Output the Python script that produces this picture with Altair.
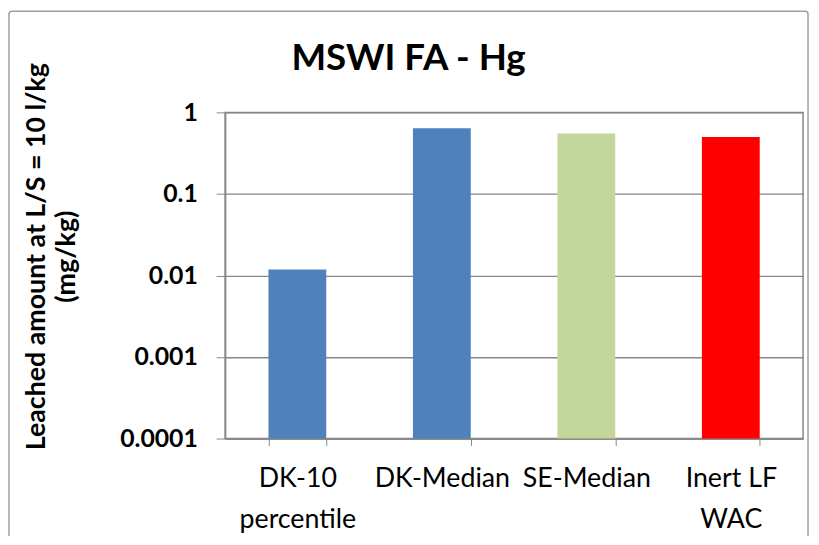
import altair as alt
import pandas as pd

categories = ["DK-10\npercentile", "DK-Median", "SE-Median", "Inert LF\nWAC"]
values = [0.0118, 0.64, 0.55, 0.5]
colors = ["#4F81BD", "#4F81BD", "#C3D69B", "#FF0000"]
y_ticks = [0.0001, 0.001, 0.01, 0.1, 1]
title_text = "MSWI FA - Hg"
y_title = ["Leached amount at L/S = 10 l/kg", "(mg/kg)"]

df = pd.DataFrame({"category": categories, "value": values})

FONT = "Lato"
GRAY = "#868686"

bars = alt.Chart(df).mark_bar().encode(
    x=alt.X("category:N", sort=categories,
            scale=alt.Scale(paddingInner=0.6, paddingOuter=0.3),
            axis=alt.Axis(title=None, labelAngle=0, labelExpr="split(datum.label, '\\n')",
                          labelFontSize=27, labelColor="#000", labelFont=FONT,
                          labelPadding=20, labelLineHeight=42, labelBaseline="top",
                          tickBand="extent", tickColor=GRAY, tickSize=7,
                          domainColor=GRAY, domainWidth=1.5, grid=False)),
    y=alt.Y("value:Q",
            scale=alt.Scale(type="log", domain=[0.0001, 1], nice=False),
            axis=alt.Axis(values=y_ticks, format="~g",
                          title=y_title,
                          titleFontSize=27, titleFont=FONT, titleFontWeight="bold",
                          titleColor="#000", titleAngle=-90,
                          titleX=-182, titleY=145, titleAlign="center",
                          titleBaseline="alphabetic", titleLineHeight=30,
                          labelFontSize=25, labelColor="#000", labelFont=FONT,
                          labelFontWeight="bold", labelPadding=19,
                          tickColor=GRAY, tickSize=9,
                          domainColor=GRAY, domainWidth=1.5,
                          gridColor=GRAY, gridWidth=1.3)),
    y2=alt.datum(0.0001),
    color=alt.Color("category:N", scale=alt.Scale(domain=categories, range=colors), legend=None),
)

border = alt.Chart(pd.DataFrame({"a": [0]})).mark_rect(
    filled=False, stroke="#a0a0a0", strokeWidth=1.5, cornerRadius=3
).encode(
    x=alt.value(-218), x2=alt.value(588), y=alt.value(-102), y2=alt.value(460)
)

title = alt.Chart(pd.DataFrame({"t": [title_text]})).mark_text(
    font=FONT, fontSize=37, fontWeight="bold", color="#000",
    align="center", baseline="alphabetic"
).encode(text="t:N", x=alt.value(185), y=alt.value(-43))

chart = alt.layer(border, bars, title).properties(
    width=583, height=329,
    autosize=alt.AutoSizeParams(type="none"),
    padding={"left": 219, "top": 103, "right": 8, "bottom": 96},
).configure_view(stroke=GRAY, strokeWidth=1.5)

chart.save("out.html", embed_options={"renderer": "svg", "actions": False})
